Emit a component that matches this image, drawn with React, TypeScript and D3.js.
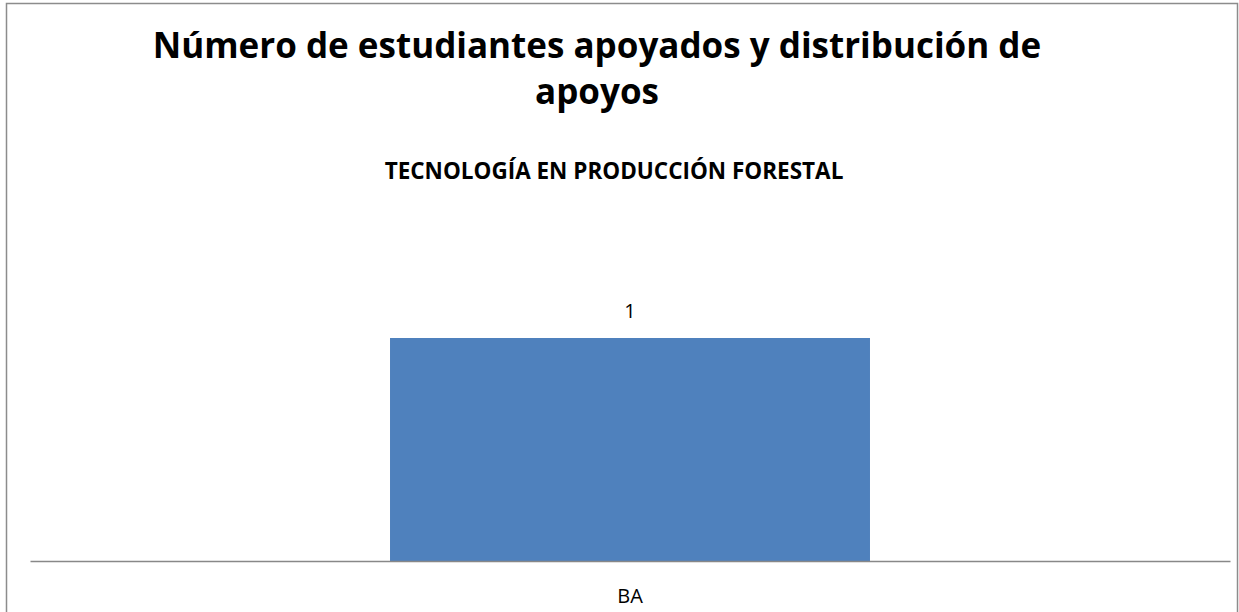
import React, { useEffect, useRef } from 'react';
import * as d3 from 'd3';

const categories = ['BA'];
const values = [1];
const titleLines = ['Número de estudiantes apoyados y distribución de', 'apoyos'];
const subtitle = 'TECNOLOGÍA EN PRODUCCIÓN FORESTAL';

const W = 1239;
const H = 612;
const FONT = '"Open Sans", "Liberation Sans", sans-serif';

const App = () => {
  const svgRef = useRef<SVGSVGElement>(null);

  useEffect(() => {
    const svg = d3.select(svgRef.current);
    svg.selectAll('*').remove();

    // chart border
    svg.append('rect')
      .attr('x', 6.5).attr('y', 3.5)
      .attr('width', 1231).attr('height', 620)
      .attr('fill', 'white')
      .attr('stroke', '#8c8c8c')
      .attr('stroke-width', 1.5);

    // titles
    svg.append('text')
      .attr('text-anchor', 'middle')
      .style('font-family', FONT)
      .style('font-size', '35px')
      .style('font-weight', 'bold')
      .selectAll('tspan')
      .data(titleLines)
      .join('tspan')
      .attr('x', 597)
      .attr('y', (d, i) => 58 + i * 46)
      .text(d => d);

    svg.append('text')
      .attr('x', 614).attr('y', 179)
      .attr('text-anchor', 'middle')
      .style('font-family', FONT)
      .style('font-size', '22.5px')
      .style('font-weight', 'bold')
      .text(subtitle);

    // scales
    const x = d3.scaleBand<string>()
      .domain(categories)
      .range([30, 1230])
      .paddingInner(0.4286)
      .paddingOuter(0.4286);

    const y = d3.scaleLinear()
      .domain([0, 1])
      .range([561, 338]);

    // bars
    svg.selectAll('.bar')
      .data(values)
      .join('rect')
      .attr('class', 'bar')
      .attr('x', (d, i) => x(categories[i])!)
      .attr('y', d => y(d))
      .attr('width', x.bandwidth())
      .attr('height', d => y(0) - y(d))
      .attr('fill', '#4f81bd');

    // value labels
    svg.selectAll('.val')
      .data(values)
      .join('text')
      .attr('class', 'val')
      .attr('x', (d, i) => x(categories[i])! + x.bandwidth() / 2)
      .attr('y', d => y(d) - 20)
      .attr('text-anchor', 'middle')
      .style('font-family', FONT)
      .style('font-size', '20px')
      .text(d => d);

    // category axis
    const axis = svg.append('g')
      .attr('transform', `translate(0,${y(0)})`)
      .call(d3.axisBottom(x).tickSize(0).tickPadding(28));
    axis.select('.domain').attr('stroke', '#888').attr('stroke-width', 1.5);
    axis.selectAll('text')
      .style('font-family', FONT)
      .style('font-size', '20px')
      .attr('fill', '#000');
  }, []);

  return (
    <svg
      ref={svgRef}
      width={W}
      height={H}
      style={{ position: 'absolute', left: 0, top: 0, background: 'white' }}
    />
  );
};

export default App;
